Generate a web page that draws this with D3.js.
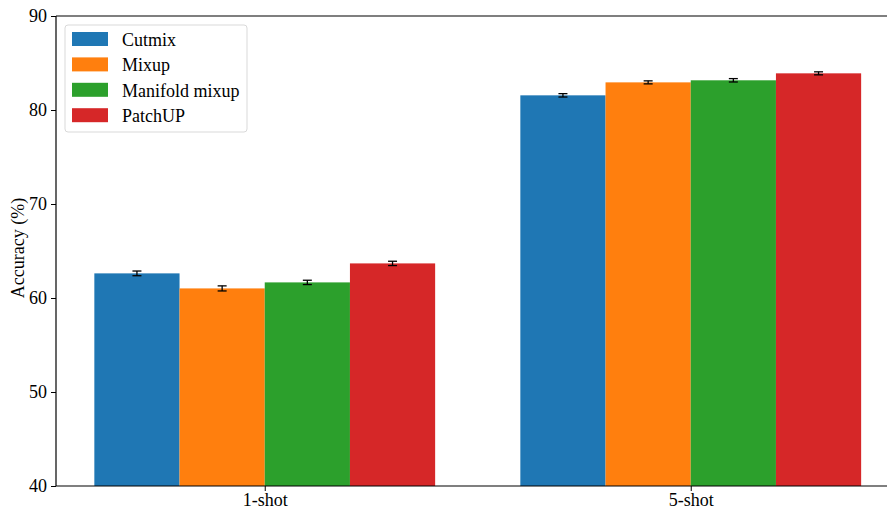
<!DOCTYPE html>
<html>
<head>
<meta charset="utf-8">
<script src="https://cdn.jsdelivr.net/npm/d3@7"></script>
<style>
  body { margin: 0; background: #fff; }
  svg text { font-family: "Liberation Serif", "Times New Roman", serif; }
</style>
</head>
<body>
<div id="container"></div>
<script>
// Chart data
const groups = ["1-shot", "5-shot"];
const methods = ["Cutmix", "Mixup", "Manifold mixup", "PatchUP"];
const colorsList = ["#1f77b4", "#ff7f0e", "#2ca02c", "#d62728"];
// one value per group for each method
const cutmixVals = [62.62, 81.56];
const mixupVals = [61.02, 82.94];
const manifoldVals = [61.66, 83.16];
const patchupVals = [63.68, 83.90];
const cutmixErr = [0.25, 0.18];
const mixupErr = [0.27, 0.16];
const manifoldErr = [0.23, 0.18];
const patchupErr = [0.23, 0.16];
const yTicks = [40, 50, 60, 70, 80, 90];

const values = [cutmixVals, mixupVals, manifoldVals, patchupVals];
const errors = [cutmixErr, mixupErr, manifoldErr, patchupErr];

const width = 887, height = 507;
const plotLeft = 56, plotTop = 16, plotBottom = 486;
const barW = 0.2;

const svg = d3.select("#container")
    .append("svg")
    .attr("width", width)
    .attr("height", height);

// x in "data units" like matplotlib: groups at 0 and 1
const x = d3.scaleLinear().domain([-0.49, 1.49]).range([plotLeft, plotLeft + 1.98 * 426]);
const y = d3.scaleLinear().domain([40, 90]).range([plotBottom, plotTop]);

// build flat list of bars
const bars = [];
methods.forEach((m, mi) => {
    groups.forEach((g, gi) => {
        bars.push({
            method: m, mi: mi, gi: gi,
            value: values[mi][gi],
            err: errors[mi][gi],
            pos: gi + (mi - 1.5) * barW
        });
    });
});

// bars
svg.append("g")
    .selectAll("rect")
    .data(bars)
    .enter()
    .append("rect")
    .attr("x", d => x(d.pos - barW / 2))
    .attr("width", d => x(d.pos + barW / 2) - x(d.pos - barW / 2))
    .attr("y", d => y(d.value))
    .attr("height", d => y(40) - y(d.value))
    .attr("fill", d => colorsList[d.mi]);

// error bars
const eb = svg.append("g")
    .attr("stroke", "#000")
    .attr("stroke-width", 1.3)
    .selectAll("g")
    .data(bars)
    .enter()
    .append("g");
eb.append("line")
    .attr("x1", d => x(d.pos)).attr("x2", d => x(d.pos))
    .attr("y1", d => y(d.value - d.err)).attr("y2", d => y(d.value + d.err));
eb.append("line")
    .attr("x1", d => x(d.pos) - 4.5).attr("x2", d => x(d.pos) + 4.5)
    .attr("y1", d => y(d.value - d.err)).attr("y2", d => y(d.value - d.err));
eb.append("line")
    .attr("x1", d => x(d.pos) - 4.5).attr("x2", d => x(d.pos) + 4.5)
    .attr("y1", d => y(d.value + d.err)).attr("y2", d => y(d.value + d.err));

// axes
const yAxis = svg.append("g")
    .attr("transform", `translate(${plotLeft},0)`)
    .call(d3.axisLeft(y).tickValues(yTicks).tickSize(5).tickPadding(4));
const xAxis = svg.append("g")
    .attr("transform", `translate(0,${plotBottom})`)
    .call(d3.axisBottom(x).tickValues([0, 1]).tickFormat((d, i) => groups[i]).tickSize(5).tickPadding(2));
[yAxis, xAxis].forEach(a => {
    a.attr("font-family", null).attr("font-size", null);
    a.selectAll("text").attr("font-size", 18).attr("fill", "#000");
    a.selectAll("line").attr("stroke", "#000").attr("stroke-width", 1);
    a.select(".domain").attr("stroke", "#000").attr("stroke-width", 1.2);
});
xAxis.select(".domain").attr("d", `M${plotLeft},0H${width + 20}`);
yAxis.select(".domain").attr("d", `M0,${plotBottom}V${plotTop}`);

// top spine
svg.append("line")
    .attr("x1", plotLeft).attr("x2", width + 20)
    .attr("y1", plotTop).attr("y2", plotTop)
    .attr("stroke", "#000").attr("stroke-width", 1.2);

// y label
svg.append("text")
    .attr("transform", `translate(24,${(plotTop + plotBottom) / 2 - 3}) rotate(-90)`)
    .attr("text-anchor", "middle")
    .attr("font-size", 18)
    .text("Accuracy (%)");

// legend
const legend = svg.append("g").attr("transform", "translate(65,25)");
legend.append("rect")
    .attr("width", 182).attr("height", 107)
    .attr("rx", 3)
    .attr("fill", "#fff").attr("fill-opacity", 0.8)
    .attr("stroke", "#d9d9d9");
const items = legend.selectAll("g.item")
    .data(methods)
    .enter()
    .append("g")
    .attr("class", "item")
    .attr("transform", (d, i) => `translate(7,${7 + i * 25.4})`);
items.append("rect")
    .attr("width", 36).attr("height", 14)
    .attr("fill", (d, i) => colorsList[i]);
items.append("text")
    .attr("x", 50).attr("y", 14)
    .attr("font-size", 18)
    .text(d => d);
</script>
</body>
</html>
